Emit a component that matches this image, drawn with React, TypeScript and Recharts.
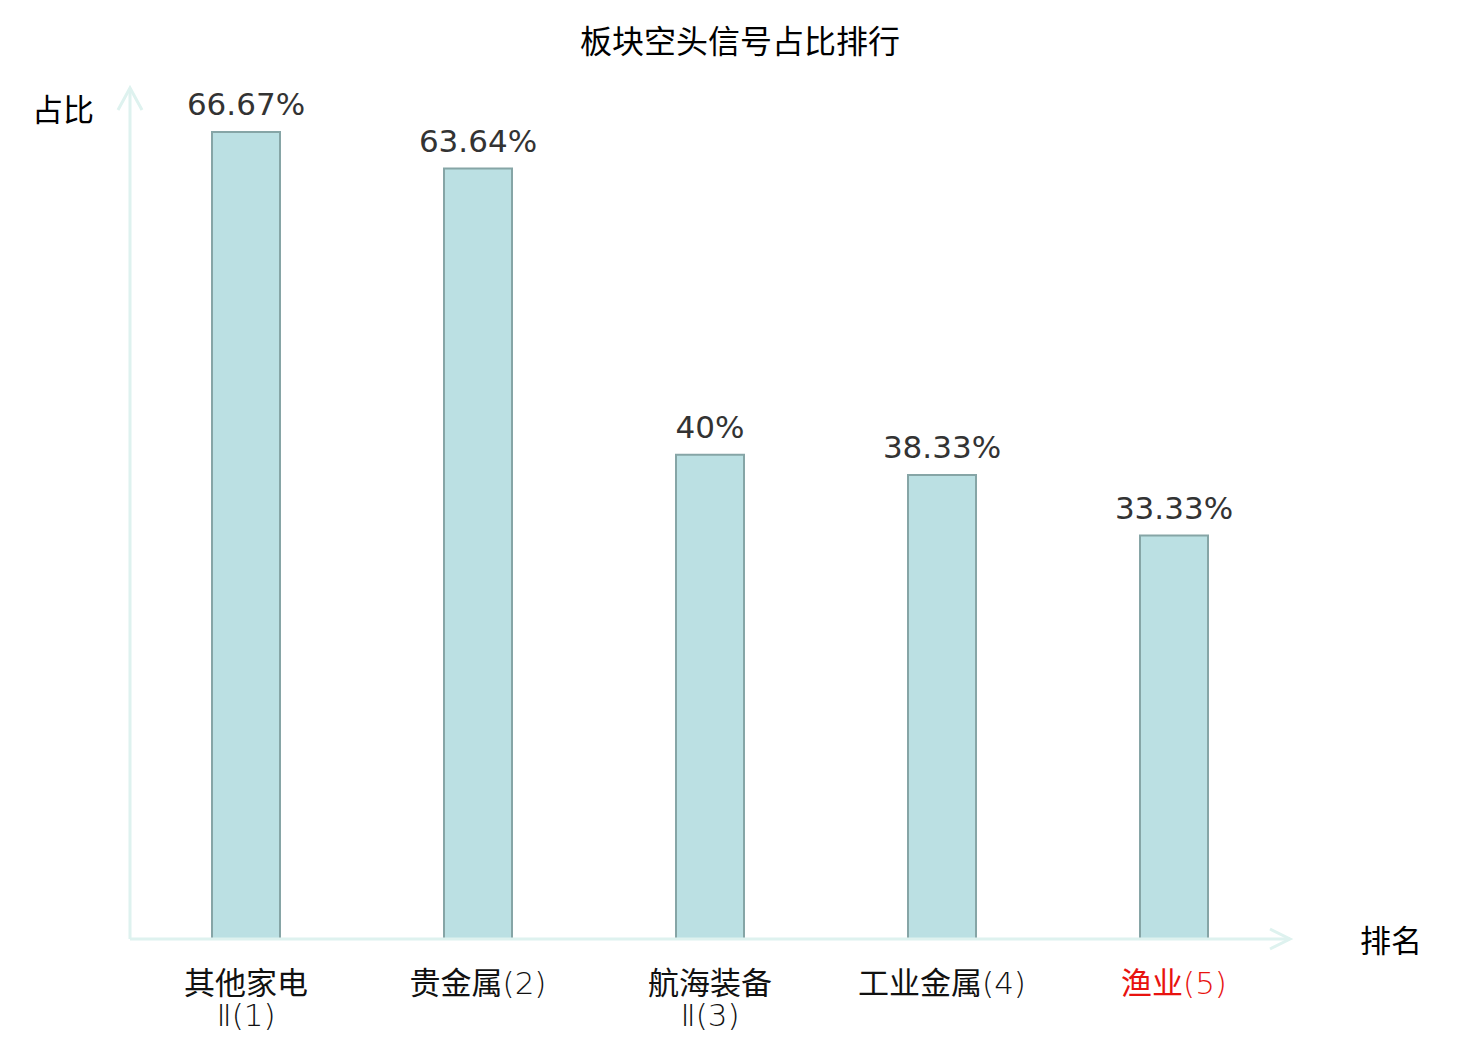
import { Bar, BarChart, LabelList, XAxis, YAxis } from 'recharts';

const CATEGORIES = ['其他家电Ⅱ', '贵金属', '航海装备Ⅱ', '工业金属', '渔业'];
// each tick: lines of [cjk part, latin part]
const TICK_LINES: [string, string][][] = [
  [['其他家电', ''], ['', 'Ⅱ(1)']],
  [['贵金属', '(2)']],
  [['航海装备', ''], ['', 'Ⅱ(3)']],
  [['工业金属', '(4)']],
  [['渔业', '(5)']],
];
const RATIOS = [66.67, 63.64, 40, 38.33, 33.33];
const HIGHLIGHT_INDEX = 4;

const FONT = '"DejaVu Sans", "Noto Sans CJK SC", sans-serif';
const CJK_FONT = '"Noto Sans CJK SC", "DejaVu Sans", sans-serif';
const THIN_FONT = '"DejaVu Sans ExtraLight", "DejaVu Sans", sans-serif';
const AXIS_COLOR = '#def2ef';
const BAR_FILL = '#bbe0e3';
const BAR_STROKE = '#86a5a6';

const data = CATEGORIES.map((name, i) => ({ name, idx: i, value: RATIOS[i] }));

function CategoryTick({ x, y, payload }: any) {
  const idx = payload?.index ?? 0;
  const lines = TICK_LINES[idx] ?? [];
  const color = idx === HIGHLIGHT_INDEX ? '#e8130f' : '#111';
  return (
    <g>
      {lines.map(([cjk, latin], i) => (
        <text key={i} x={x} y={y + 47 + i * 32} textAnchor="middle" fill={color} fontSize={31} fontFamily={CJK_FONT}>
          {cjk && <tspan>{cjk}</tspan>}
          {latin && (
            <tspan fontFamily={THIN_FONT} fontWeight={200}>
              {latin}
            </tspan>
          )}
        </text>
      ))}
    </g>
  );
}

export default function App() {
  return (
    <div style={{ position: 'absolute', left: 0, top: 0, width: 1480, height: 1040, background: '#fff' }}>
      <BarChart width={1480} height={1040} data={data} margin={{ top: 88, right: 190, bottom: 0, left: 129 }}>
        <XAxis
          dataKey="name"
          axisLine={{ stroke: AXIS_COLOR, strokeWidth: 3 }}
          tickLine={false}
          tick={<CategoryTick />}
          interval={0}
          height={101}
        />
        <YAxis
          width={1}
          domain={[0, 70.3]}
          tick={false}
          tickLine={false}
          axisLine={{ stroke: AXIS_COLOR, strokeWidth: 3 }}
        />
        <Bar dataKey="value" barSize={68} fill={BAR_FILL} stroke={BAR_STROKE} strokeWidth={2} isAnimationActive={false}>
          <LabelList
            dataKey="value"
            position="top"
            offset={17}
            formatter={(v: any) => `${v}%`}
            fill="#333"
            fontSize={31}
            fontFamily={FONT}
          />
        </Bar>
      </BarChart>
      <svg width={1480} height={1040} style={{ position: 'absolute', left: 0, top: 0, pointerEvents: 'none' }}>
        <polyline points="118,110 130,88 142,110" fill="none" stroke={AXIS_COLOR} strokeWidth={3} />
        <polyline points="1270,929 1290,939 1270,949" fill="none" stroke={AXIS_COLOR} strokeWidth={3} />
        <text x={740} y={53} textAnchor="middle" fontSize={32} fontFamily={CJK_FONT} fill="#000">
          板块空头信号占比排行
        </text>
        <text x={63} y={121} textAnchor="middle" fontSize={31} fontFamily={CJK_FONT} fill="#000">
          占比
        </text>
        <text x={1391} y={952} textAnchor="middle" fontSize={31} fontFamily={CJK_FONT} fill="#000">
          排名
        </text>
      </svg>
    </div>
  );
}
